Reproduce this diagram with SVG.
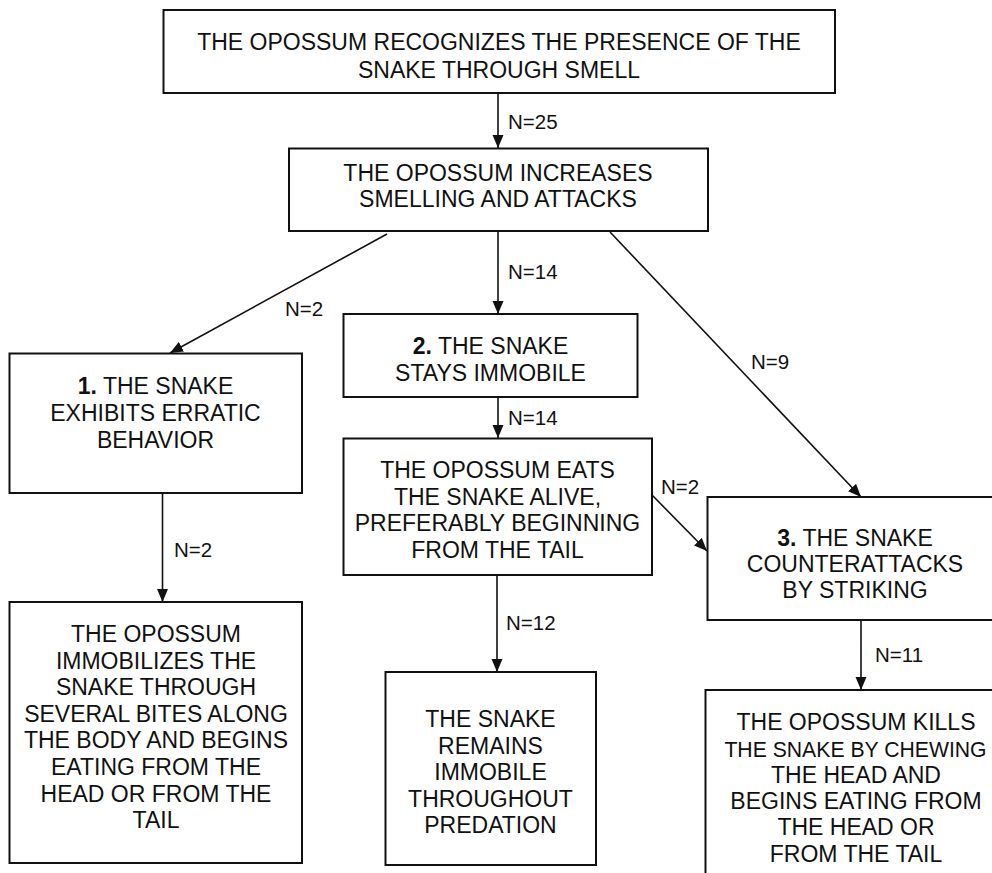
<svg xmlns="http://www.w3.org/2000/svg" width="992" height="873" viewBox="0 0 992 873">
<style>
.box{fill:#fff;stroke:#111;stroke-width:2}
.t{font-family:"Liberation Sans",Arial,sans-serif;font-size:23px;fill:#111;text-anchor:middle}
.l{font-family:"Liberation Sans",Arial,sans-serif;font-size:20.5px;fill:#111}
.b{font-weight:bold}
.c{fill:none;stroke:#111;stroke-width:1.6}
</style>
<defs>
<marker id="ah" markerUnits="userSpaceOnUse" markerWidth="14" markerHeight="12" refX="13" refY="5.5" orient="auto" viewBox="0 0 14 11">
<path d="M0,0 L13,5.5 L0,11 z" fill="#111"/>
</marker>
</defs>
<rect width="992" height="873" fill="#fff"/>
<g id="connectors">
<line class="c" x1="498" y1="93" x2="498" y2="148" marker-end="url(#ah)"/>
<line class="c" x1="387" y1="234" x2="170" y2="353" marker-end="url(#ah)"/>
<line class="c" x1="498" y1="231" x2="498" y2="314" marker-end="url(#ah)"/>
<line class="c" x1="610" y1="232" x2="861" y2="497" marker-end="url(#ah)"/>
<line class="c" x1="498" y1="397" x2="498" y2="438" marker-end="url(#ah)"/>
<line class="c" x1="652" y1="495" x2="707" y2="551" marker-end="url(#ah)"/>
<line class="c" x1="162.5" y1="493" x2="162.5" y2="602" marker-end="url(#ah)"/>
<line class="c" x1="497" y1="575" x2="497" y2="672" marker-end="url(#ah)"/>
<line class="c" x1="861" y1="620" x2="861" y2="690" marker-end="url(#ah)"/>
<text class="l" x="508" y="129">N=25</text>
<text class="l" x="285" y="316">N=2</text>
<text class="l" x="508" y="279">N=14</text>
<text class="l" x="751" y="369">N=9</text>
<text class="l" x="508" y="425">N=14</text>
<text class="l" x="661" y="494">N=2</text>
<text class="l" x="174" y="557">N=2</text>
<text class="l" x="506" y="630">N=12</text>
<text class="l" x="875" y="662">N=11</text>
</g>
<g id="n_recognizes">
<rect class="box" x="163.5" y="10" width="671.5" height="83"/>
<text class="t" x="499" y="50">THE OPOSSUM RECOGNIZES THE PRESENCE OF THE</text>
<text class="t" x="499" y="77.5">SNAKE THROUGH SMELL</text>
</g>
<g id="n_increases">
<rect class="box" x="289" y="148.5" width="419" height="82.5"/>
<text class="t" x="498" y="180.5">THE OPOSSUM INCREASES</text>
<text class="t" x="498" y="207">SMELLING AND ATTACKS</text>
</g>
<g id="n_erratic">
<rect class="box" x="9.5" y="353.5" width="292.5" height="139.5"/>
<text class="t" x="155.5" y="394"><tspan class="b">1.</tspan> THE SNAKE</text>
<text class="t" x="155.5" y="421">EXHIBITS ERRATIC</text>
<text class="t" x="155.5" y="447.5">BEHAVIOR</text>
</g>
<g id="n_immobile">
<rect class="box" x="343.5" y="314" width="294" height="83"/>
<text class="t" x="490.5" y="354"><tspan class="b">2.</tspan> THE SNAKE</text>
<text class="t" x="490.5" y="381">STAYS IMMOBILE</text>
</g>
<g id="n_eats">
<rect class="box" x="343.5" y="438.5" width="308.5" height="136.5"/>
<text class="t" x="497.5" y="478">THE OPOSSUM EATS</text>
<text class="t" x="497.5" y="505">THE SNAKE ALIVE,</text>
<text class="t" x="497.5" y="531">PREFERABLY BEGINNING</text>
<text class="t" x="497.5" y="557.5">FROM THE TAIL</text>
</g>
<g id="n_counter">
<rect class="box" x="707.5" y="497" width="300" height="123"/>
<text class="t" x="855" y="546"><tspan class="b">3.</tspan> THE SNAKE</text>
<text class="t" x="855" y="572">COUNTERATTACKS</text>
<text class="t" x="855" y="598">BY STRIKING</text>
</g>
<g id="n_bites">
<rect class="box" x="9.5" y="602" width="292.5" height="261"/>
<text class="t" x="156" y="642">THE OPOSSUM</text>
<text class="t" x="156" y="669">IMMOBILIZES THE</text>
<text class="t" x="156" y="695">SNAKE THROUGH</text>
<text class="t" x="156" y="721.5">SEVERAL BITES ALONG</text>
<text class="t" x="156" y="748">THE BODY AND BEGINS</text>
<text class="t" x="156" y="775">EATING FROM THE</text>
<text class="t" x="156" y="801.5">HEAD OR FROM THE</text>
<text class="t" x="156" y="827.5">TAIL</text>
</g>
<g id="n_remains">
<rect class="box" x="385.5" y="672" width="210.5" height="193"/>
<text class="t" x="490.5" y="727">THE SNAKE</text>
<text class="t" x="490.5" y="754">REMAINS</text>
<text class="t" x="490.5" y="780">IMMOBILE</text>
<text class="t" x="490.5" y="806.5">THROUGHOUT</text>
<text class="t" x="490.5" y="832.5">PREDATION</text>
</g>
<g id="n_kills">
<rect class="box" x="705.5" y="690" width="305" height="200"/>
<text class="t" x="856" y="730">THE OPOSSUM KILLS</text>
<text class="t" x="855.5" y="757" style="font-size:21.2px">THE SNAKE BY CHEWING</text>
<text class="t" x="856" y="782.5">THE HEAD AND</text>
<text class="t" x="856" y="809">BEGINS EATING FROM</text>
<text class="t" x="856" y="835">THE HEAD OR</text>
<text class="t" x="856" y="861.5">FROM THE TAIL</text>
</g>
</svg>
